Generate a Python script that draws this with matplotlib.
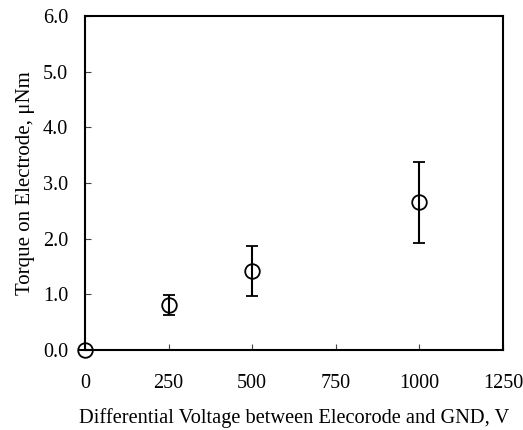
import matplotlib.pyplot as plt

# Torque vs differential voltage
voltage = [0, 250, 500, 1000]
torque = [0.0, 0.81, 1.42, 2.65]
torque_err = [0.0, 0.18, 0.45, 0.73]

plt.rcParams['font.family'] = 'Liberation Serif'

fig = plt.figure(figsize=(5.23, 4.30), dpi=100)
ax = fig.add_axes([0.1625, 0.186, 0.7993, 0.777])

ax.errorbar(voltage, torque, yerr=torque_err, fmt='o', mfc='none', mec='black',
            ms=10.5, mew=1.3, ecolor='black', elinewidth=1.5, capsize=4.3, capthick=1.5,
            color='black', clip_on=False, zorder=3)

ax.set_xlim(0, 1250)
ax.set_ylim(0, 6)
ax.set_xticks([0, 250, 500, 750, 1000, 1250])
ax.set_yticks([0, 1, 2, 3, 4, 5, 6])
ax.set_yticklabels([f'{v:.1f}' for v in [0, 1, 2, 3, 4, 5, 6]])
ax.tick_params(direction='in', length=4.5, width=0.8, color='#444444', labelsize=14.5)
ax.tick_params(axis='x', pad=17)
ax.tick_params(axis='y', pad=12)
for s in ax.spines.values():
    s.set_linewidth(1.5)

ax.set_xlabel('Differential Voltage between Elecorode and GND, V', fontsize=14.7, labelpad=11)
ax.set_ylabel('Torque on Electrode, μNm', fontsize=15, labelpad=6)

plt.savefig('out.png', dpi=100)
